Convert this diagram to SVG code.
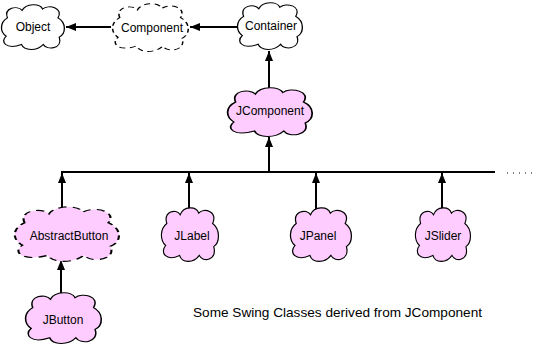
<svg xmlns="http://www.w3.org/2000/svg" xmlns:xlink="http://www.w3.org/1999/xlink" width="534" height="346" viewBox="0 0 534 346">
<style>
.cl{fill:#fff;stroke:#000;stroke-width:2;vector-effect:non-scaling-stroke}
.pk{fill:#ffccff}
.ds{stroke-dasharray:8 6}
.t{font-family:"Liberation Sans",Arial,sans-serif;font-size:12px;fill:#000;text-anchor:middle}
.e{stroke:#000;stroke-width:2;fill:none}
</style>
<defs>
<path id="cloud" d="M10,30 C4,8 26,2 33,14 C39,-2 61,-2 65,11 C74,0 98,8 89,30 C102,40 102,64 91,72 C97,97 72,102 66,88 C56,103 36,102 32,88 C8,100 -2,82 8,70 C-2,60 -2,40 10,30 Z"/>
<marker id="ah" markerUnits="userSpaceOnUse" markerWidth="10" markerHeight="10" viewBox="0 0 10 10" refX="10" refY="5" orient="auto">
<path d="M0,1 L10,5 L0,9 Z" fill="#000"/>
</marker>
</defs>
<rect width="534" height="346" fill="#fff"/>
<g id="connectors">
<line class="e" x1="111" y1="27" x2="66" y2="27" marker-end="url(#ah)"/>
<line class="e" x1="237" y1="27" x2="190" y2="27" marker-end="url(#ah)"/>
<line class="e" x1="269" y1="88" x2="269" y2="51" marker-end="url(#ah)"/>
<line class="e" x1="269" y1="172" x2="269" y2="137" marker-end="url(#ah)"/>
<line class="e" x1="61" y1="172" x2="495" y2="172"/>
<line x1="507" y1="173" x2="534" y2="173" stroke="#000" stroke-width="1" stroke-dasharray="1 5"/>
<line class="e" x1="62" y1="210" x2="62" y2="173" marker-end="url(#ah)"/>
<line class="e" x1="189" y1="210" x2="189" y2="173" marker-end="url(#ah)"/>
<line class="e" x1="316" y1="210" x2="316" y2="173" marker-end="url(#ah)"/>
<line class="e" x1="442" y1="210" x2="442" y2="173" marker-end="url(#ah)"/>
<line class="e" x1="61" y1="293" x2="61" y2="260" marker-end="url(#ah)"/>
</g>
<g id="object">
<use xlink:href="#cloud" class="cl" transform="translate(1,4) scale(0.64,0.46)"/>
<text class="t" x="33" y="31">Object</text>
</g>
<g id="component">
<use xlink:href="#cloud" class="cl ds" transform="translate(112,3) scale(0.77,0.49)"/>
<text class="t" x="152" y="32">Component</text>
</g>
<g id="container">
<use xlink:href="#cloud" class="cl" transform="translate(237,2) scale(0.66,0.48)"/>
<text class="t" x="271" y="30">Container</text>
</g>
<g id="jcomponent">
<use xlink:href="#cloud" class="cl pk" transform="translate(227,87) scale(0.86,0.50)"/>
<text class="t" x="270" y="115">JComponent</text>
</g>
<g id="abstractbutton">
<use xlink:href="#cloud" class="cl pk ds" transform="translate(14,206) scale(1.06,0.56)"/>
<text class="t" x="69" y="240">AbstractButton</text>
</g>
<g id="jlabel">
<use xlink:href="#cloud" class="cl pk" transform="translate(161,207) scale(0.58,0.55)"/>
<text class="t" x="192" y="240">JLabel</text>
</g>
<g id="jpanel">
<use xlink:href="#cloud" class="cl pk" transform="translate(290,207) scale(0.62,0.55)"/>
<text class="t" x="318" y="240">JPanel</text>
</g>
<g id="jslider">
<use xlink:href="#cloud" class="cl pk" transform="translate(415,207) scale(0.56,0.55)"/>
<text class="t" x="443" y="240">JSlider</text>
</g>
<g id="jbutton">
<use xlink:href="#cloud" class="cl pk" transform="translate(25,292) scale(0.77,0.52)"/>
<text class="t" x="63" y="324">JButton</text>
</g>
<text x="193" y="317" font-family="Liberation Sans, Arial, sans-serif" font-size="13" textLength="289" lengthAdjust="spacingAndGlyphs">Some Swing Classes derived from JComponent</text>
</svg>
